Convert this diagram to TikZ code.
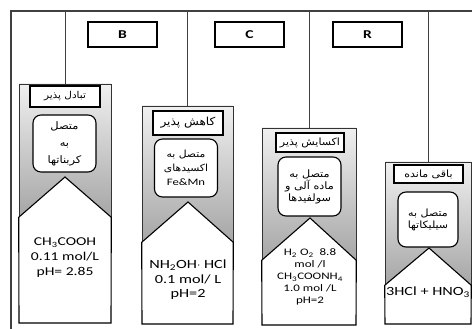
\documentclass[tikz,border=0pt]{standalone}
\usepackage{fontspec}
\setmainfont{Carlito}[FakeStretch=1.3]
\newfontfamily\farsi[Script=Arabic,FakeStretch=1.1]{DejaVu Sans}
\TeXXeTstate=1
\newcommand{\fa}[1]{{\farsi\beginR #1\endR}}
\newcommand{\fs}[2]{\fontsize{#1}{#2}\selectfont}
\tikzset{
  hdrbox/.style={draw,line width=1.3pt,minimum width=69pt,minimum height=25pt,font=\bfseries\fs{12}{14}},
  labbox/.style={draw,line width=1.3pt,fill=white,inner sep=0pt},
  grpbox/.style={draw,line width=1.1pt,fill=white,rounded corners=8pt,inner sep=0pt,align=center},
  colbox/.style={draw=black!80,line width=0.6pt,top color=gray!12,bottom color=gray!70},
  pent/.style={draw,line width=1.1pt,fill=white},
  soltext/.style={align=center,inner sep=0pt},
  link/.style={black!75,line width=0.8pt}
}
\begin{document}
\begin{tikzpicture}[x=1pt,y=-1pt]
\useasboundingbox (0,0) rectangle (472,329);
% frame
\coordinate (corner) at (11,11);
\draw[link,line width=1.1pt] (11,329) -- (corner) -- (472,11);
\node[hdrbox] (B) at (122.5,34.5) {B};
\node[hdrbox] (C) at (249.5,34.5) {C};
\node[hdrbox] (R) at (367.5,34.5) {R};
% first column
\node[colbox,minimum width=92pt,minimum height=133pt] (col1) at (65,150.5) {};
\draw[link] (col1.north |- corner) -- (col1.north);
\draw[pent] (col1.south west) -- (65,177) -- (col1.south east) -- (111,323) -- (19,323) -- cycle;
\node[labbox,minimum width=70pt,minimum height=21pt,font=\fs{9.5}{12}] (lab1) at (65,96.5) {\fa{تبادل پذیر}};
\node[grpbox,minimum width=63pt,minimum height=57pt,font=\fs{10.4}{17}] (grp1) at (64.5,143.5) {\fa{متصل}\\\fa{به}\\\fa{کربناتها}};
\node[soltext,font=\fs{12}{15}] (sol1) at (65,258) {CH\textsubscript{3}COOH\\0.11 mol/L\\pH= 2.85};
% second column
\node[colbox,minimum width=91pt,minimum height=136pt] (col2) at (187.5,174) {};
\draw[link] (col2.north |- corner) -- (col2.north);
\draw[pent] (col2.south west) -- (188,202) -- (col2.south east) -- (233,324) -- (142,324) -- cycle;
\node[labbox,minimum width=70pt,minimum height=24pt,font=\fs{11}{14}] (lab2) at (188,123) {\fa{کاهش پذیر}};
\node[grpbox,minimum width=63pt,minimum height=58pt,font=\fs{9.8}{14}] (grp2) at (186,168) {\fa{متصل به}\\\fa{اکسیدهای}\\Fe\&Mn};
\node[soltext,font=\fs{12.5}{14.5}] (sol2) at (188,280) {NH\textsubscript{2}OH$\cdot$ HCl\\0.1 mol/ L\\pH=2};
% third column
\node[colbox,minimum width=94pt,minimum height=132pt] (col3) at (309,194) {};
\draw[link] (col3.north |- corner) -- (col3.north);
\draw[pent] (col3.south west) -- (310,218) -- (col3.south east) -- (356,325) -- (262,325) -- cycle;
\node[labbox,minimum width=68pt,minimum height=19pt,font=\fs{10}{12}] (lab3) at (310,142.5) {\fa{اکسایش پذیر}};
\node[grpbox,minimum width=63pt,minimum height=59pt,font=\fs{10.2}{12}] (grp3) at (309.5,186.5) {\fa{متصل به}\\\fa{ماده آلی و}\\\fa{سولفیدها}};
\node[soltext,font=\fs{10}{12}] (sol3) at (310,277) {H\textsubscript{2} O\textsubscript{2}\ \ 8.8\\mol /l\\CH\textsubscript{3}COONH\textsubscript{4}\\1.0 mol /L\\pH=2};
% fourth column
\node[colbox,minimum width=86pt,minimum height=123pt] (col4) at (428,223.5) {};
\draw[link] (col4.north |- corner) -- (col4.north);
\draw[pent] (col4.south west) -- (429,248) -- (col4.south east) -- (471,324) -- (385,324) -- cycle;
\node[labbox,minimum width=69pt,minimum height=18pt,font=\fs{10}{11}] (lab4) at (428.5,174) {\fa{باقی مانده}};
\node[grpbox,minimum width=60pt,minimum height=55pt,font=\fs{10}{12}] (grp4) at (428,219.5) {\fa{متصل به}\\\fa{سیلیکاتها}};
\node[soltext,font=\fs{12.5}{15}] (sol4) at (428,292) {3HCl + HNO\textsubscript{3}};
\end{tikzpicture}
\end{document}
